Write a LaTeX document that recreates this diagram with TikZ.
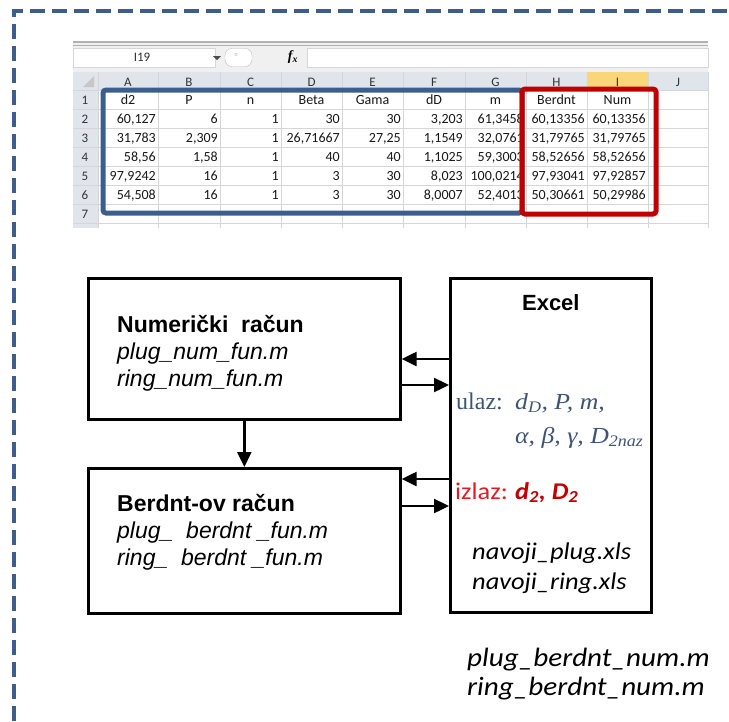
\documentclass[tikz,border=0pt]{standalone}
\usepackage{fontspec}
\newfontfamily\arialf{Liberation Sans}
\newfontfamily\timesf{Liberation Serif}
\newfontfamily\varf[FakeStretch=1.12]{Liberation Serif}
\newfontfamily\calf[FakeStretch=1.1]{Carlito}
\newfontfamily\cellf{Carlito}
\usetikzlibrary{arrows.meta}

\definecolor{frameblue}{RGB}{59,94,140}
\definecolor{markred}{RGB}{192,0,0}
\definecolor{headgray}{RGB}{224,228,235}
\definecolor{gridgray}{RGB}{212,214,218}
\definecolor{selyellow}{RGB}{250,214,120}
\definecolor{ulazblue}{RGB}{62,84,118}
\definecolor{izlazred}{RGB}{226,28,36}

\begin{document}
\begin{tikzpicture}[x=1pt, y=-1pt,
  box/.style={draw, line width=2.7pt, anchor=north west, inner sep=0pt},
  boxtxt/.style={anchor=north west, align=left, inner sep=0pt,
    font=\arialf\fontsize{23}{27}\selectfont},
  arr/.style={line width=2.4pt, -{Triangle[length=15pt,width=14pt]}},
  cell/.style={anchor=base east, inner sep=0pt, text=black!90, font=\cellf\fontsize{14}{15}\selectfont},
  head/.style={anchor=base, inner sep=0pt, text=black!90, font=\cellf\fontsize{14}{15}\selectfont},
  colhd/.style={anchor=base, inner sep=0pt, text=black!80, font=\cellf\fontsize{13}{14}\selectfont},
  vartxt/.style={anchor=base west, inner sep=0pt, text=ulazblue, font=\varf\itshape\fontsize{23}{28}\selectfont},
  file/.style={anchor=north west, align=left, inner sep=0pt, font=\calf\itshape\fontsize{24}{30}\selectfont}
]
\useasboundingbox (0,0) rectangle (729,721);

% dashed frame
\draw[frameblue, line width=4pt, dash pattern=on 15pt off 7pt] (14,721) -- (14,11) -- (729,11);

% spreadsheet: formula bar
\fill[black!6] (73,41) rectangle (708,72);
\draw[black!30, line width=1.2pt] (73,42) -- (708,42);
\draw[black!30] (73,45.5) -- (708,45.5);
\draw[gridgray, fill=white] (73,48) rectangle (215,67);
\node[colhd, anchor=center] (namebox) at (142,57.5) {I19};
\fill[black!70] (213,56) -- (221,56) -- (217,60) -- cycle;
\draw[black!25, fill=white, rounded corners=7pt] (225,48.5) rectangle (252,66.5);
\node[text=black!35, font=\cellf\fontsize{8}{8}\selectfont] (eqbtn) at (236,56) {=};
\node[font=\timesf\bfseries\itshape\fontsize{14}{14}\selectfont] (fx) at (293,57) {f\textsubscript{x}};
\draw[gridgray, fill=white] (307,48) rectangle (708,67);

% spreadsheet: headers and grid
\fill[headgray] (73,72) rectangle (708,90);
\fill[headgray] (73,90) rectangle (98,228);
\fill[selyellow] (587,72) rectangle (648,90);
\fill[white] (98,90) rectangle (708,228);
\fill[black!22] (94,76) -- (94,87) -- (83,87) -- cycle;
\foreach \x in {98,158,220,281,342,403,465,526,587,648,708}
  \draw[gridgray] (\x,72) -- (\x,228);
\foreach \r in {0,...,7}
  \draw[gridgray] (73,{90+19*\r}) -- (708,{90+19*\r});
\foreach \c/\x in {A/128,B/189,C/250.5,D/311.5,E/372.5,F/434,G/495.5,H/556.5,I/617.5,J/678}
  \node[colhd] at (\x,86) {\c};
\foreach \r in {1,...,7}
  \node[colhd] at (85,{90+19*\r-5}) {\r};

% spreadsheet: data
\foreach \t/\x in {d2/128,P/189,n/250.5,Beta/311.5,Gama/372.5,dD/434,m/495.5,Berdnt/556.5,Num/617.5}
  \node[head] at (\x,104) {\t};
\def\colR{{156,218,279,340,401,463,524,585,646}}
\foreach \row [count=\r from 2] in {
  {{60,127},6,1,30,30,{3,203},{61,3458},{60,13356},{60,13356}},
  {{31,783},{2,309},1,{26,71667},{27,25},{1,1549},{32,0761},{31,79765},{31,79765}},
  {{58,56},{1,58},1,40,40,{1,1025},{59,3003},{58,52656},{58,52656}},
  {{97,9242},16,1,3,30,{8,023},{100,0214},{97,93041},{97,92857}},
  {{54,508},16,1,3,30,{8,0007},{52,4013},{50,30661},{50,29986}}}
  \foreach \v [count=\i from 0] in \row {
    \pgfmathsetmacro\xr{\colR[\i]}
    \node[cell] at (\xr,{90+19*\r-5}) {\v};
  }

% marked ranges
\draw[frameblue, line width=5pt, rounded corners=3pt] (103,90) rectangle (522,213);
\draw[markred, line width=5pt, rounded corners=3pt] (522,89) rectangle (656,214);

% blocks
\node[box, minimum width=312pt, minimum height=141pt] (num) at (87,277) {};
\node[box, minimum width=312pt, minimum height=145pt] (berd) at (87,467) {};
\node[box, minimum width=201pt, minimum height=334pt] (excel) at (449,277) {};

\node[boxtxt] (numtxt) at (117,315) {{\bfseries Numerički\ \ račun}\\
  {\itshape plug\_num\_fun.m}\\ {\itshape ring\_num\_fun.m}};
\node[boxtxt] (berdtxt) at (117,494) {{\bfseries Berdnt-ov račun}\\
  {\itshape plug\_\ \ berdnt \_fun.m}\\ {\itshape ring\_\ \ berdnt \_fun.m}};

\node[anchor=base, inner sep=0pt, font=\arialf\bfseries\fontsize{22}{26}\selectfont] (exceltxt)
  at ([yshift=-33pt]excel.north) {Excel};
\node[anchor=base west, inner sep=0pt, text=ulazblue, font=\timesf\fontsize{24}{28}\selectfont] (ulaz)
  at (456,409) {ulaz:};
\node[vartxt] (ulazvar) at (515,409) {d\textsubscript{D}, P, m,};
\node[vartxt] (ulazgr) at (515,443) {α, β, γ, D\textsubscript{2naz}};
\node[anchor=base west, inner sep=0pt, text=izlazred, font=\calf\fontsize{24}{28}\selectfont] (izlaz)
  at (455,499) {izlaz:};
\node[anchor=base west, inner sep=0pt, text=markred, font=\calf\bfseries\itshape\fontsize{24}{28}\selectfont] (izlazvar)
  at (515,499) {d\textsubscript{2}, D\textsubscript{2}};
\node[file] (xls) at (472,543) {navoji\_plug.xls\\ navoji\_ring.xls};
\node[file, font=\calf\itshape\fontsize{26.5}{29}\selectfont] (mfiles) at (467,648)
  {plug\_berdnt\_num.m\\ ring\_berdnt\_num.m};

% connectors
\coordinate (n1) at ([yshift=-82pt]num.north east);
\coordinate (n2) at ([yshift=-108pt]num.north east);
\coordinate (b1) at ([yshift=-12pt]berd.north east);
\coordinate (b2) at ([yshift=-39pt]berd.north east);
\draw[arr] (excel.west |- n1) -- (n1);
\draw[arr] (n2) -- (excel.west |- n2);
\draw[arr] (excel.west |- b1) -- (b1);
\draw[arr] (b2) -- (excel.west |- b2);
\draw[arr] (num.south) -- (berd.north);
\end{tikzpicture}
\end{document}
